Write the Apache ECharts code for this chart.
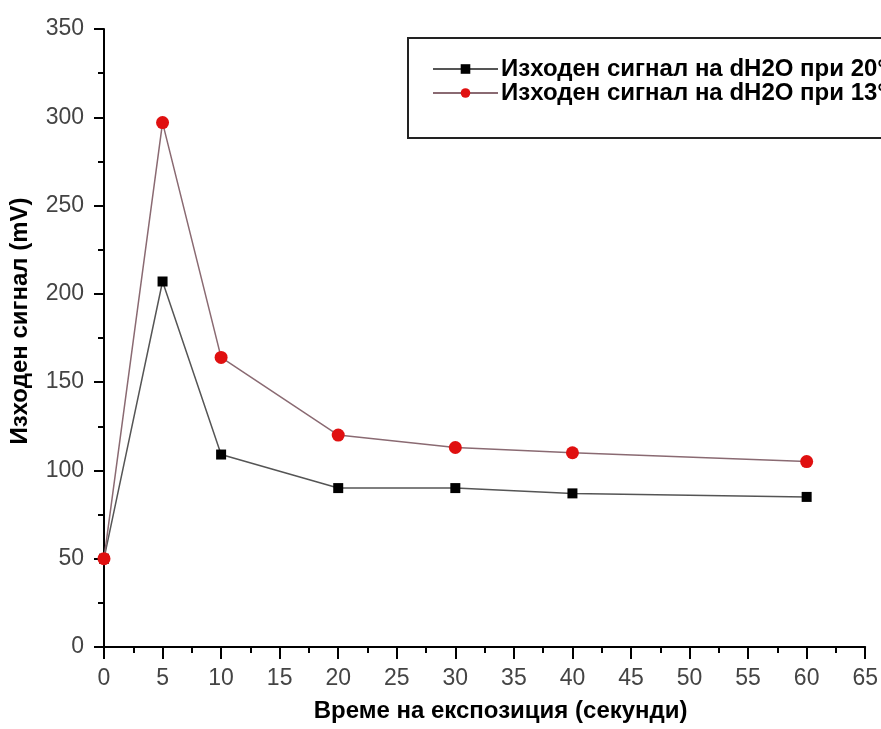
<!DOCTYPE html>
<html>
<head>
<meta charset="utf-8">
<script src="https://cdn.jsdelivr.net/npm/echarts@6/dist/echarts.min.js"></script>
<style>
html,body{margin:0;padding:0;background:#fff;}
#chart{width:881px;height:729px;}
</style>
</head>
<body>
<div id="chart"></div>
<script>
var times = [0, 5, 10, 20, 30, 40, 60];
var signal20 = [50, 207, 109, 90, 90, 87, 85];
var signal13 = [50, 297, 164, 120, 113, 110, 105];
var seriesNames = ['Изходен сигнал на dH2O при 20°C', 'Изходен сигнал на dH2O при 13°C'];
var xTitle = 'Време на експозиция (секунди)';
var yTitle = 'Изходен сигнал (mV)';

function pairs(xs, ys) { return xs.map(function (x, i) { return [x, ys[i]]; }); }

var chart = echarts.init(document.getElementById('chart'), null, {renderer: 'canvas'});
var font = '"Liberation Sans", Arial, sans-serif';
chart.setOption({
  animation: false,
  backgroundColor: '#fff',
  grid: {left: 103, right: 14, top: 29, bottom: 82},
  graphic: [{
    type: 'rect', z: 0, left: 407, top: 37,
    shape: {width: 600, height: 100},
    style: {fill: '#fff', stroke: '#222', lineWidth: 2}
  }],
  legend: {
    left: 432, top: 57, orient: 'vertical', padding: 0, itemGap: 0,
    itemWidth: 65, itemHeight: 12, z: 5,
    textStyle: {fontFamily: font, fontSize: 24, fontWeight: 'bold', color: '#000', lineHeight: 24, padding: [0,0,0,-2]},
    data: seriesNames
  },
  xAxis: {
    type: 'value', min: 0, max: 65, interval: 5,
    name: xTitle, nameLocation: 'middle', nameGap: 52,
    nameTextStyle: {fontFamily: font, fontSize: 24, fontWeight: 'bold', color: '#000', padding: [0,0,0,32]},
    axisLine: {lineStyle: {color: '#000', width: 2}},
    axisTick: {inside: false, length: 12, lineStyle: {color: '#000', width: 2}},
    minorTick: {show: true, splitNumber: 2, length: 6, lineStyle: {color: '#000', width: 2}},
    axisLabel: {fontFamily: font, fontSize: 23, color: '#444', margin: 20},
    splitLine: {show: false}
  },
  yAxis: {
    type: 'value', min: 0, max: 350, interval: 50,
    name: yTitle, nameLocation: 'middle', nameGap: 72,
    nameTextStyle: {fontFamily: font, fontSize: 24, fontWeight: 'bold', color: '#000', padding: [0,0,0,34]},
    axisLine: {show: true, lineStyle: {color: '#000', width: 2}},
    axisTick: {show: true, inside: false, length: 10, lineStyle: {color: '#000', width: 2}},
    minorTick: {show: true, splitNumber: 2, length: 6, lineStyle: {color: '#000', width: 2}},
    axisLabel: {fontFamily: font, fontSize: 23, color: '#444', margin: 20},
    splitLine: {show: false}
  },
  series: [{
    name: seriesNames[0], type: 'line', data: pairs(times, signal20),
    symbol: 'rect', symbolSize: 10, z: 3,
    itemStyle: {color: '#000'},
    lineStyle: {color: '#555', width: 1.5}
  }, {
    name: seriesNames[1], type: 'line', data: pairs(times, signal13),
    symbol: 'circle', symbolSize: 13, z: 4,
    itemStyle: {color: '#e01010'},
    lineStyle: {color: '#8a6a72', width: 1.5}
  }]
});
</script>
</body>
</html>
